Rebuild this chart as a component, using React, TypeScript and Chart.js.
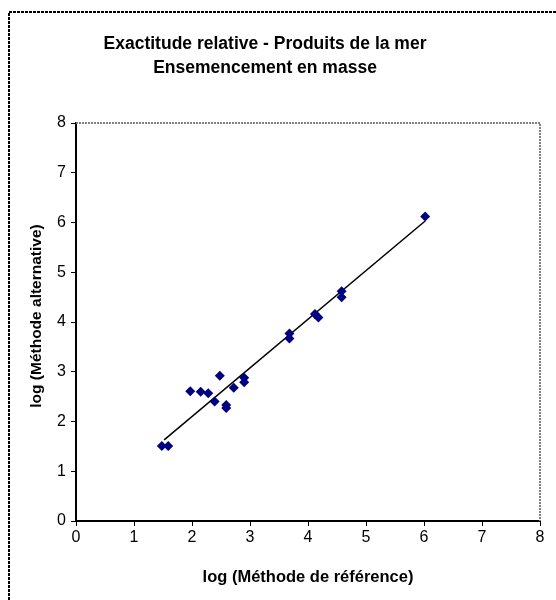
import React, { useEffect, useRef } from "react";
import { Chart, registerables } from "chart.js";

Chart.register(...registerables);

const titleLines = ["Exactitude relative - Produits de la mer", "Ensemencement en masse"];
const xAxisTitle = "log (Méthode de référence)";
const yAxisTitle = "log (Méthode alternative)";

// log (Méthode de référence)
const refValues = [1.48, 1.59, 1.97, 2.15, 2.28, 2.39, 2.48, 2.59, 2.59, 2.72, 2.9, 2.9, 3.68, 3.68, 4.12, 4.18, 4.58, 4.58, 6.02];
// log (Méthode alternative)
const altValues = [1.51, 1.51, 2.61, 2.6, 2.57, 2.4, 2.92, 2.33, 2.27, 2.68, 2.88, 2.79, 3.77, 3.67, 4.16, 4.09, 4.62, 4.5, 6.12];

// linear trend line end points
const trendX = [1.52, 6.02];
const trendY = [1.63, 6.03];

const FONT = "'Liberation Sans', Arial, Helvetica, sans-serif";

const framePlugin = {
  id: "frame",
  afterDraw(chart: any) {
    const { ctx, chartArea } = chart;
    ctx.save();
    // outer chart border
    ctx.strokeStyle = "#000";
    ctx.lineWidth = 2;
    ctx.setLineDash([3, 1]);
    ctx.strokeRect(9, 12, 700, 800);
    // plot area top / right border
    ctx.strokeStyle = "#808080";
    ctx.lineWidth = 2;
    ctx.setLineDash([2, 1]);
    ctx.beginPath();
    ctx.moveTo(chartArea.left, chartArea.top);
    ctx.lineTo(chartArea.right, chartArea.top);
    ctx.lineTo(chartArea.right, chartArea.bottom);
    ctx.stroke();
    ctx.setLineDash([]);
    // chart title
    ctx.fillStyle = "#000";
    ctx.textAlign = "center";
    ctx.textBaseline = "middle";
    ctx.font = `bold 17.5px ${FONT}`;
    titleLines.forEach((line, i) => ctx.fillText(line, 265, 44 + i * 24));
    // y axis title
    ctx.font = `bold 15.5px ${FONT}`;
    ctx.translate(37, 316);
    ctx.rotate(-Math.PI / 2);
    ctx.fillText(yAxisTitle, 0, 0);
    ctx.restore();
  },
};

export default function App() {
  const ref = useRef<HTMLCanvasElement | null>(null);

  useEffect(() => {
    if (!ref.current) return;
    const points = refValues.map((x, i) => ({ x, y: altValues[i] }));
    const trend = trendX.map((x, i) => ({ x, y: trendY[i] }));
    const chart = new Chart(ref.current, {
      type: "scatter",
      data: {
        datasets: [
          {
            label: "Trend",
            data: trend,
            showLine: true,
            borderColor: "#000",
            borderWidth: 1.5,
            pointRadius: 0,
            order: 2,
          },
          {
            label: "Données",
            data: points,
            pointStyle: "rectRot",
            pointRadius: 5,
            backgroundColor: "#000080",
            borderColor: "#000080",
            borderWidth: 0,
            order: 1,
          },
        ],
      },
      options: {
        animation: false,
        responsive: false,
        devicePixelRatio: 1,
        layout: { padding: { left: 0, right: 16, top: 123, bottom: 0 } },
        plugins: {
          legend: { display: false },
          tooltip: { enabled: false },
          title: { display: false },
        },
        scales: {
          x: {
            type: "linear",
            min: 0,
            max: 8,
            ticks: { stepSize: 1, color: "#000", font: { family: FONT, size: 16 }, padding: 2, maxRotation: 0 },
            grid: { drawOnChartArea: false, drawTicks: true, tickLength: 5, color: "#000", lineWidth: 1 },
            border: { display: true, color: "#000", width: 2, dash: [3, 1] },
            title: {
              display: true,
              text: xAxisTitle,
              color: "#000",
              font: { family: FONT, size: 16.5, weight: "bold" },
              padding: { top: 0, bottom: 13 },
            },
            afterFit: (scale: any) => {
              scale.height = 79;
            },
          },
          y: {
            type: "linear",
            min: 0,
            max: 8,
            ticks: { stepSize: 1, color: "#000", font: { family: FONT, size: 16 }, padding: 5 },
            grid: { drawOnChartArea: false, drawTicks: true, tickLength: 5, color: "#000", lineWidth: 1 },
            border: { display: true, color: "#000", width: 2 },
            title: { display: false },
            afterFit: (scale: any) => {
              scale.width = 76;
            },
          },
        },
      },
      plugins: [framePlugin],
    });
    return () => chart.destroy();
  }, []);

  return (
    <div style={{ position: "absolute", left: 0, top: 0, width: 556, height: 600, background: "#fff" }}>
      <canvas ref={ref} width={556} height={600} style={{ display: "block", width: 556, height: 600 }} />
    </div>
  );
}
